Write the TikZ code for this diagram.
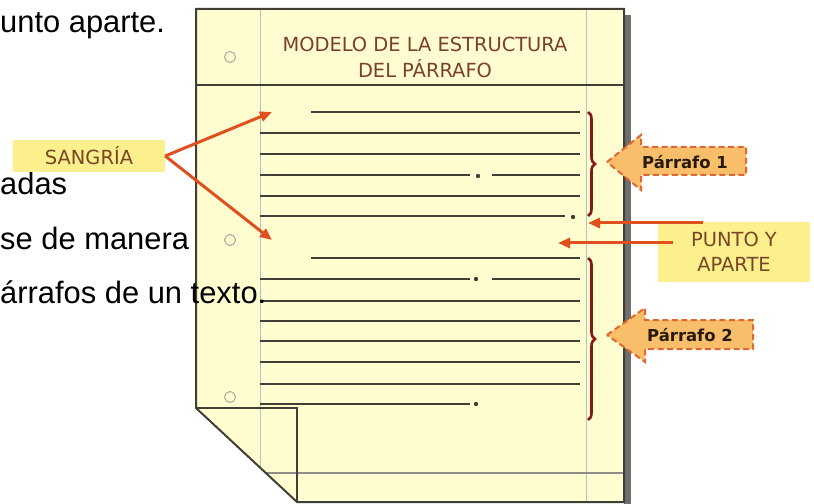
\documentclass[tikz,border=0pt]{standalone}
\usepackage{fontspec}
\setmainfont{Liberation Sans}
\newfontfamily\tahoma{DejaVu Sans}
\usepackage{xcolor}
\usetikzlibrary{positioning,arrows.meta,decorations.pathreplacing,calc}
\definecolor{paper}{HTML}{FFFCD0}
\definecolor{margin}{HTML}{A9C6CC}
\definecolor{ink}{HTML}{403F35}
\definecolor{titlebrown}{HTML}{7B3F2F}
\definecolor{labelbrown}{HTML}{7A4426}
\definecolor{hilite}{HTML}{FBF08C}
\definecolor{arrowred}{HTML}{E0501F}
\definecolor{bracered}{HTML}{861812}
\definecolor{tagfill}{HTML}{F9BE6A}
\definecolor{tagedge}{HTML}{E0672E}
\definecolor{shadowgray}{HTML}{6E6E6E}

\begin{document}
\begin{tikzpicture}[
    x=1bp, y=-1bp,
    rule/.style={ink, line width=2bp},
    hole/.style={draw=ink!45, circle, minimum size=11bp, inner sep=0pt, line width=1bp},
    tag/.style={fill=hilite, font=\tahoma\fontsize{19.5}{25}\selectfont, text=labelbrown,
                align=center, inner sep=0pt},
    pointer/.style={-{Triangle[length=12bp,width=10bp]}, arrowred, line width=3bp},
    bracket/.style={bracered, line width=2.6bp, decorate, decoration={brace, amplitude=7bp}},
    parrow/.style={fill=tagfill, draw=tagedge, line width=2bp, dash pattern=on 6bp off 3.5bp},
    parlabel/.style={font=\tahoma\bfseries\fontsize{16.5}{18}\selectfont, text=black!80!brown},
    slide/.style={font=\fontsize{31}{36}\selectfont, anchor=base west, inner sep=0pt},
]
    \useasboundingbox (0,0) rectangle (814,504);

    % Sheet
    \fill[shadowgray] (624,15) rectangle (631,504);
    \fill[paper] (196,9) -- (624,9) -- (624,502) -- (297,502) -- (196,408) -- cycle;
    \begin{scope}
        \clip (196,9) -- (624,9) -- (624,502) -- (297,502) -- (196,408) -- cycle;
        \draw[margin, line width=0.9bp] (260,9) -- (260,502);
        \draw[margin, line width=0.9bp] (586,9) -- (586,502);
        \draw[ink, line width=1.3bp] (196,85) -- (624,85);
        \draw[ink!60, line width=1.1bp] (196,473) -- (624,473);
    \end{scope}
    \draw[ink, line width=2bp] (196,9) -- (624,9) -- (624,502) -- (297,502) -- (196,408) -- cycle;
    \draw[ink, line width=2bp] (196,408) -- (297,408) -- (297,502);

    % Holes
    \node[hole] (hole1) at (230,57) {};
    \node[hole] (hole2) at (230,240) {};
    \node[hole] (hole3) at (230,397) {};

    % Title
    \node[font=\tahoma\fontsize{19.5}{26}\selectfont, text=titlebrown, align=center]
        (title) at (425,57) {MODELO DE LA ESTRUCTURA\\DEL PÁRRAFO};

    % Paragraph 1
    \draw[rule] (311,112) -- (580,112);
    \foreach \y in {133,154,196}
        \draw[rule] (260,\y) -- (580,\y);
    \draw[rule] (260,175) -- (470,175) (492,175) -- (580,175);
    \fill[ink] (478,176) circle (2.2bp);
    \draw[rule] (260,216) -- (565,216);
    \fill[ink] (573,217) circle (2.2bp);

    % Paragraph 2
    \draw[rule] (311,258) -- (580,258);
    \draw[rule] (260,279) -- (470,279) (492,279) -- (580,279);
    \fill[ink] (476,279) circle (2.2bp);
    \foreach \y in {301,321,341,362,384}
        \draw[rule] (260,\y) -- (580,\y);
    \draw[rule] (260,404) -- (470,404);
    \fill[ink] (476,404) circle (2.2bp);

    % Braces
    \draw[bracket] (588,112) -- (588,216);
    \draw[bracket] (588,258) -- (588,420);

    % Paragraph tags
    \draw[parrow] (607,162) -- (641,135) -- (641,147) -- (746,147) -- (746,175)
        -- (641,175) -- (641,190) -- cycle;
    \node[parlabel] (par1) at (685,162) {Párrafo 1};
    \draw[parrow] (607,335) -- (645,308) -- (645,320) -- (753,320) -- (753,349)
        -- (645,349) -- (645,362) -- cycle;
    \node[parlabel] (par2) at (690,335) {Párrafo 2};

    % Slide text behind
    \node[slide] (s1) at (0,33) {unto aparte.};
    \node[slide] (s2) at (0,195) {adas};
    \node[slide] (s3) at (0,250) {se de manera};
    \node[slide] (s4) at (0,304) {árrafos de un texto.};

    % Indent
    \node[tag, minimum width=152bp, minimum height=32bp] (sangria) at (89,156) {SANGRÍA};
    \coordinate (indent1) at (272,112);
    \coordinate (indent2) at (272,240);
    \draw[pointer] (sangria.east) -- (indent1);
    \draw[pointer] (sangria.east) -- (indent2);

    % Full stop
    \node[tag, minimum width=152bp, minimum height=60bp] (punto) at (734,252) {PUNTO Y\\APARTE};
    \coordinate (stopfrom) at (703,223);
    \coordinate (stopend) at (588,223);
    \coordinate (newfrom) at (673,243);
    \coordinate (newpar) at (558,243);
    \draw[pointer] (stopfrom) -- (stopend);
    \draw[pointer] (newfrom) -- (newpar);

\end{tikzpicture}
\end{document}
